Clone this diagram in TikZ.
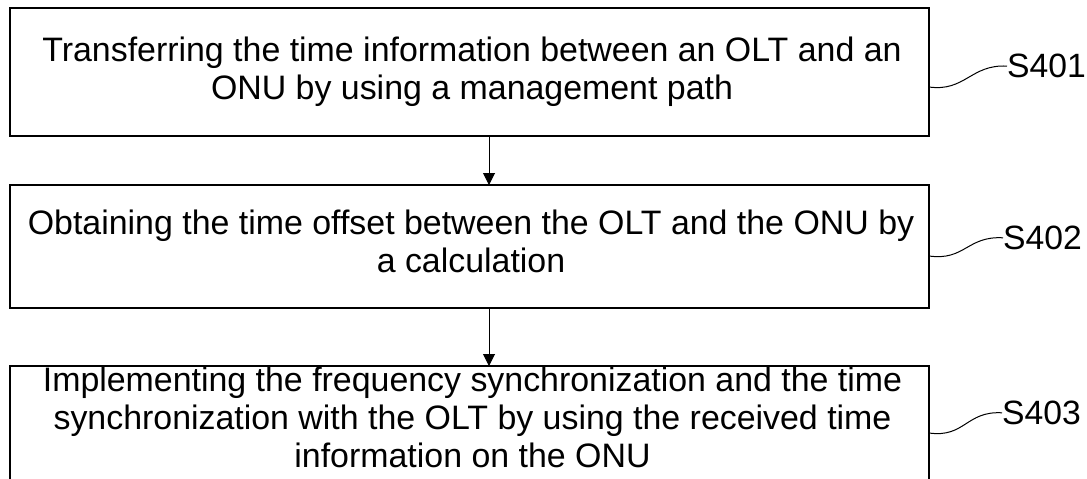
\documentclass[tikz,border=0pt]{standalone}
\usepackage{fontspec}
\setmainfont{Liberation Sans}
\usetikzlibrary{arrows.meta}
\begin{document}
\begin{tikzpicture}[x=1pt,y=-1pt,
  box/.style={draw=black, line width=1.3pt, minimum width=919pt, inner sep=0pt, outer sep=0pt},
  txt/.style={font=\fontsize{33.9}{38}\selectfont, align=center, inner sep=0pt},
  lbl/.style={font=\fontsize{33.7}{38}\selectfont, inner sep=0pt, anchor=west},
  arr/.style={line width=1pt, -{Triangle[width=12pt,length=12pt]}},
  wave/.style={line width=1pt}]
\useasboundingbox (0,0) rectangle (1087,479);
\clip (0,0) rectangle (1087,479);
\node[box, minimum height=128pt] (b1) at (469.5,72) {};
\node[box, minimum height=123pt] (b2) at (469.5,246.5) {};
\node[box, minimum height=119pt] (b3) at (469.5,425.5) {};
\node[txt] (t1) at (472,72.2) {Transferring the time information between an OLT and an\\ONU by using a management path};
\node[txt] (t2) at (471,241.7) {Obtaining the time offset between the OLT and the ONU by\\a calculation};
\node[txt] (t3) at (472.5,417.5) {Implementing the frequency synchronization and the time\\synchronization with the OLT by using the received time\\information on the ONU};
\node[lbl] (l1) at (1007,66.1) {S401};
\node[lbl] (l2) at (1003,237.8) {S402};
\node[lbl] (l3) at (1002,412.8) {S403};
\coordinate (ax) at (489,0);
\draw[arr] (b1.south -| ax) -- (b2.north -| ax);
\draw[arr] (b2.south -| ax) -- (b3.north -| ax);
\draw[wave] ([yshift=-15pt]b1.east) .. controls +(36,5) and +(-36,-2) .. (l1.west);
\draw[wave] ([yshift=-9.5pt]b2.east) .. controls +(36,5) and +(-36,-2) .. (l2.west);
\draw[wave] ([yshift=-7.5pt]b3.east) .. controls +(36,5) and +(-36,-2) .. (l3.west);
\end{tikzpicture}
\end{document}
